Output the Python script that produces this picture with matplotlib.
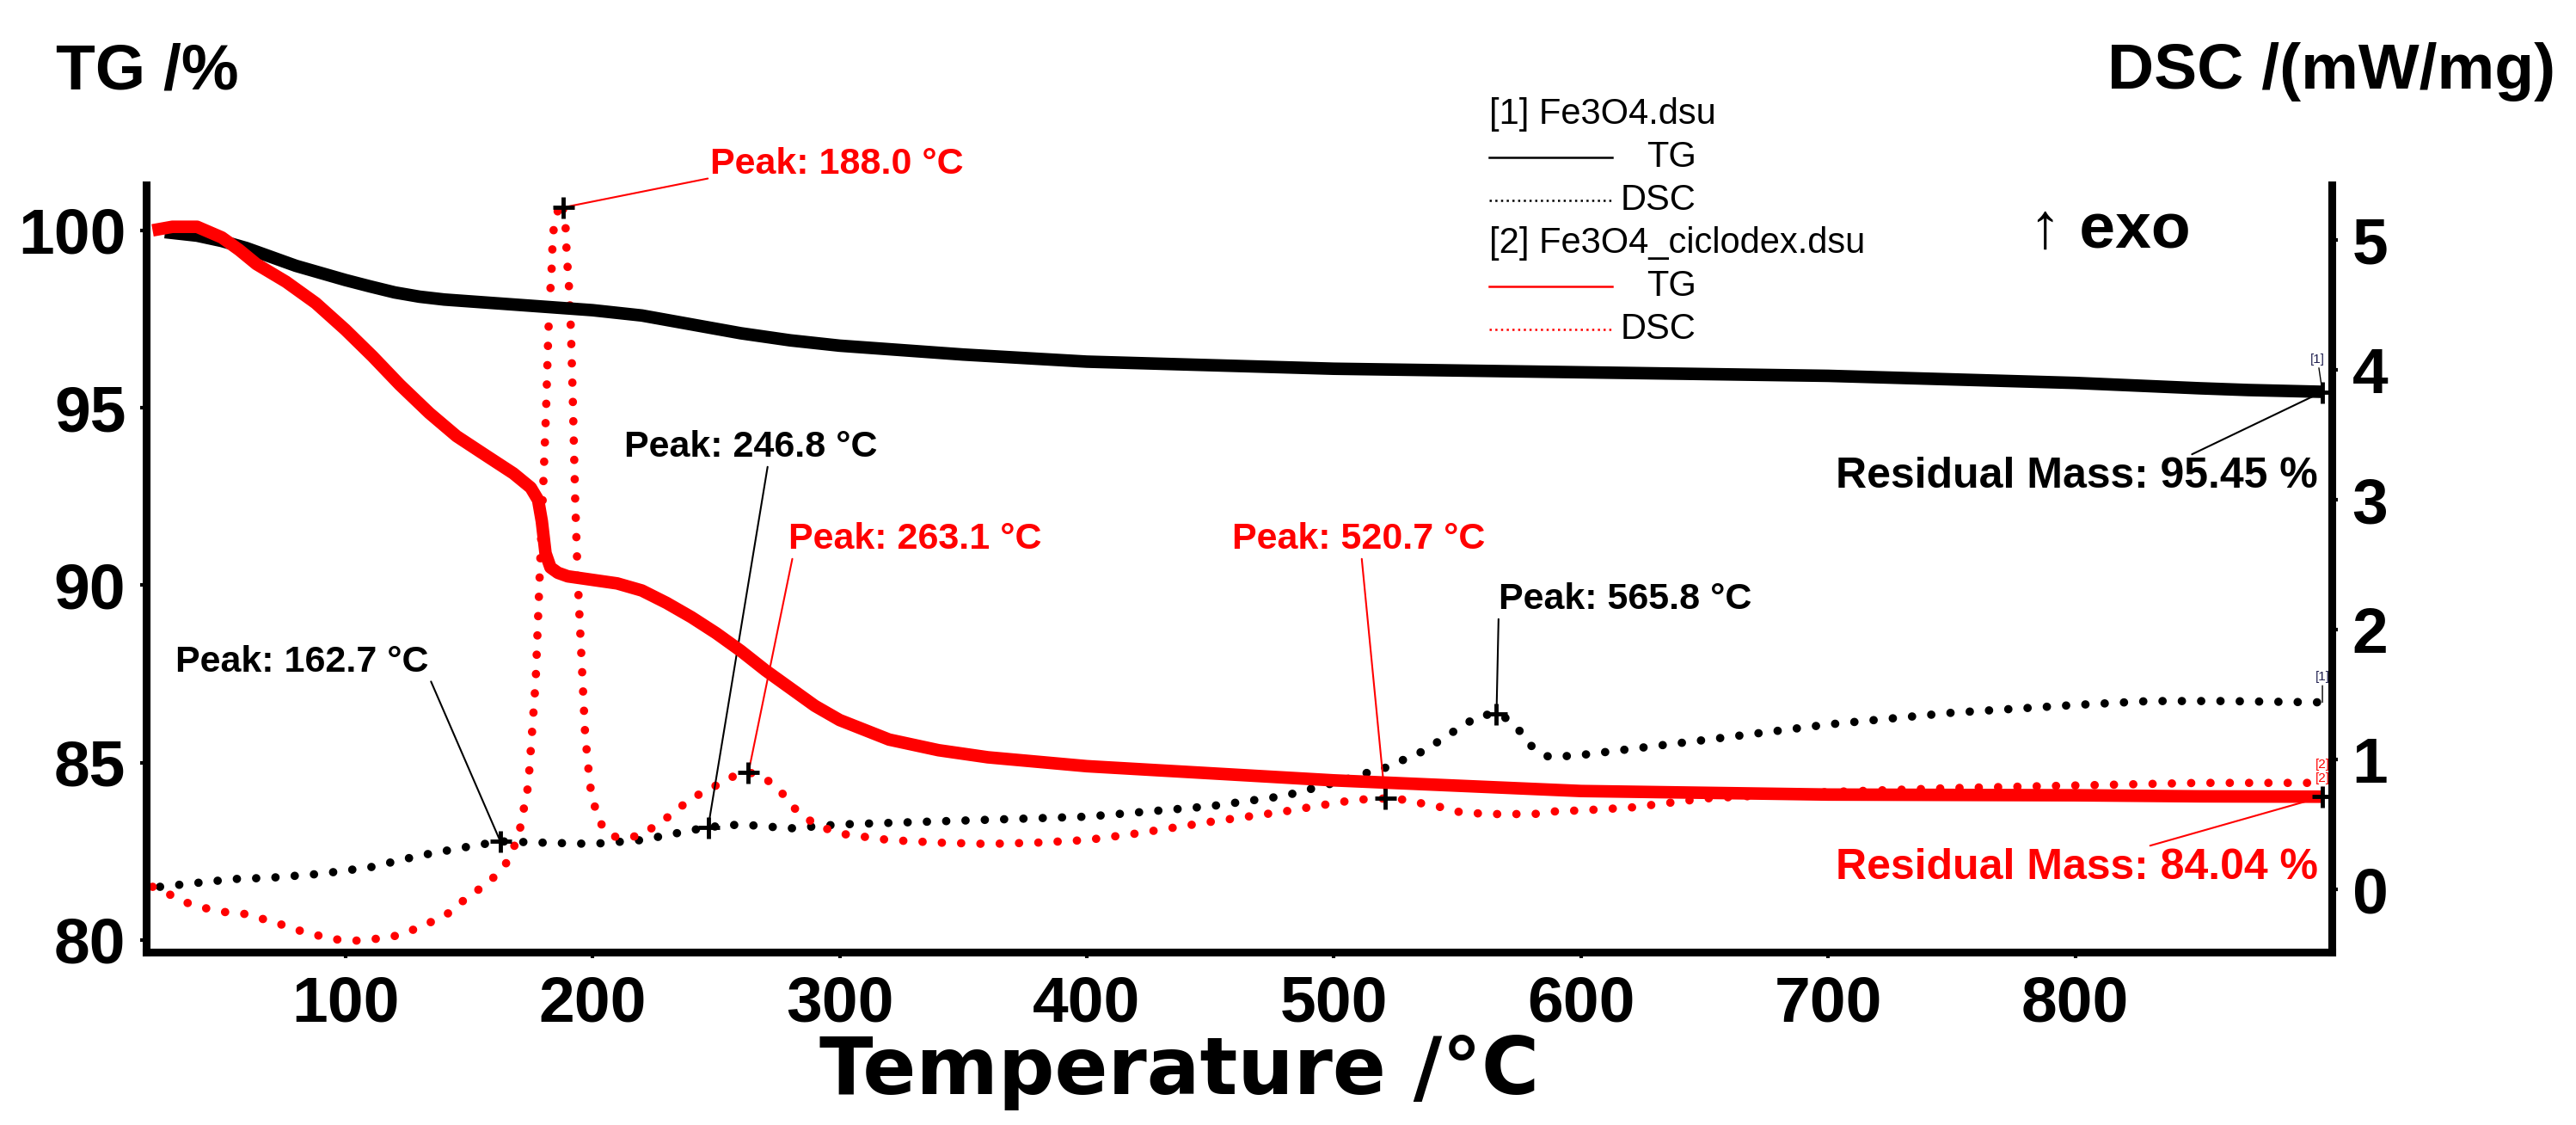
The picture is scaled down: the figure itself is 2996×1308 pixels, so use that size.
import matplotlib
matplotlib.use('Agg')
import matplotlib.pyplot as plt
from matplotlib.lines import Line2D
from matplotlib.ticker import MultipleLocator
import numpy as np

plt.rcParams['font.family'] = ['Liberation Sans', 'DejaVu Sans']

# TG curves (%)
tg1_t = [27, 40, 50, 60, 70, 80, 90, 100, 110, 120, 130, 140, 160, 180, 200, 220, 240, 260, 280,
         300, 350, 400, 450, 500, 550, 600, 650, 700, 750, 800, 850, 870, 900]
tg1 = [99.95, 99.85, 99.7, 99.5, 99.25, 99.0, 98.8, 98.6, 98.42, 98.25, 98.13, 98.05, 97.95, 97.85,
       97.75, 97.6, 97.35, 97.1, 96.9, 96.75, 96.5, 96.3, 96.2, 96.1, 96.05, 96.0, 95.95, 95.9,
       95.8, 95.7, 95.55, 95.5, 95.45]

tg2_t = [22, 30, 40, 50, 57, 64, 76, 88, 100, 111, 122, 134, 145, 157, 168, 175, 178, 179.5, 181,
         183, 186, 190, 200, 210, 220, 230, 240, 250, 260, 270, 280, 290, 300, 320, 340, 360, 400,
         450, 500, 550, 600, 700, 800, 850, 900]
tg2 = [100.0, 100.1, 100.1, 99.8, 99.45, 99.05, 98.55, 97.95, 97.2, 96.45, 95.65, 94.85, 94.2,
       93.65, 93.15, 92.75, 92.4, 91.8, 90.9, 90.5, 90.35, 90.25, 90.15, 90.05, 89.85, 89.5, 89.1,
       88.65, 88.15, 87.6, 87.1, 86.6, 86.2, 85.65, 85.35, 85.15, 84.9, 84.7, 84.5, 84.35, 84.2,
       84.1, 84.08, 84.05, 84.04]

# DSC curves (mW/mg)
dsc1_t = [25, 40, 55, 70, 90, 110, 130, 150, 162.7, 180, 200, 220, 246.8, 260, 280, 300, 350, 400,
          450, 480, 504, 512, 520, 526, 532, 538, 543, 548, 553, 559, 565.8, 568, 573, 576, 579,
          582, 587, 598, 650, 700, 750, 800, 830, 860, 900]
dsc1 = [0.02, 0.05, 0.08, 0.09, 0.12, 0.17, 0.26, 0.33, 0.37, 0.36, 0.35, 0.38, 0.48, 0.5, 0.47,
        0.5, 0.53, 0.56, 0.64, 0.72, 0.84, 0.89, 0.93, 0.98, 1.03, 1.08, 1.15, 1.21, 1.27, 1.34,
        1.35, 1.34, 1.27, 1.2, 1.12, 1.07, 1.02, 1.03, 1.15, 1.27, 1.36, 1.42, 1.45, 1.45, 1.44]

dsc2_t = [22, 28, 34, 40, 47, 53, 60, 67, 74, 80, 86, 92, 98, 104, 110, 118, 125, 130, 136, 142,
          150, 158, 165, 170, 174, 177, 179, 180.3, 181.2, 182, 182.6, 183.3, 184, 185.5, 187.5,
          189, 189.6, 190.7, 191.3, 192, 193, 194, 195.5, 197, 199, 202, 206, 210, 215, 220, 230,
          240, 250, 258, 263.1, 268, 275, 282, 290, 300, 320, 340, 360, 380, 400, 420, 450, 480,
          502, 509, 520.7, 529, 536, 542, 549, 555, 562, 571, 581, 589, 602, 620, 650, 700, 750,
          800, 850, 900]
dsc2 = [0.02, -0.03, -0.09, -0.13, -0.16, -0.18, -0.19, -0.23, -0.27, -0.31, -0.34, -0.37, -0.39,
        -0.395, -0.385, -0.37, -0.33, -0.29, -0.24, -0.18, -0.05, 0.05, 0.2, 0.4, 0.8, 1.6, 2.6,
        3.22, 3.68, 4.2, 4.53, 4.7, 5.05, 5.2, 5.3, 5.15, 4.88, 4.58, 4.29, 3.8, 3.0, 2.4, 1.8, 1.2,
        0.8, 0.55, 0.43, 0.4, 0.4, 0.42, 0.55, 0.7, 0.8, 0.88, 0.9, 0.88, 0.78, 0.62, 0.5, 0.43,
        0.38, 0.36, 0.35, 0.36, 0.38, 0.43, 0.52, 0.6, 0.67, 0.69, 0.7, 0.69, 0.66, 0.64, 0.6, 0.59,
        0.58, 0.58, 0.58, 0.6, 0.61, 0.63, 0.7, 0.75, 0.78, 0.8, 0.82, 0.82]

W, H = 2996, 1308


def fpos(x, y):
    # pixel position in the picture -> figure fraction
    return (x / W, 1 - y / H)


fig = plt.figure(figsize=(W / 100, H / 100), dpi=100)
ax = fig.add_axes([170 / W, 1 - 1107 / H, (2712 - 170) / W, (1107 - 215) / H])
ax2 = ax.twinx()
ax.set_zorder(ax2.get_zorder() + 1)
ax.patch.set_visible(False)

red = '#ff0000'
dot = (0, (0.01, 2.3))

ax2.plot(dsc1_t, dsc1, color='black', lw=7, linestyle=dot, dash_capstyle='round')
ax2.plot(dsc2_t, dsc2, color=red, lw=7, linestyle=dot, dash_capstyle='round')
ax.plot(tg1_t, tg1, color='black', lw=10.5, solid_capstyle='butt', solid_joinstyle='round')
ax.plot(tg2_t, tg2, color=red, lw=10.5, solid_capstyle='butt', solid_joinstyle='round')

ax.set_xlim(19.4, 903.8)
ax.set_ylim(79.66, 101.28)
ax2.set_ylim(-0.483, 5.424)

for a in (ax, ax2):
    a.spines['top'].set_visible(False)
    for s in ('left', 'right', 'bottom'):
        a.spines[s].set_linewidth(6.5)
    a.tick_params(which='major', direction='out', length=5, width=3, labelsize=54)
    a.tick_params(which='minor', direction='out', length=3, width=3)

ax.xaxis.set_minor_locator(MultipleLocator(20))
ax.yaxis.set_minor_locator(MultipleLocator(1))
ax2.yaxis.set_minor_locator(MultipleLocator(0.2))
ax.set_xticks([100, 200, 300, 400, 500, 600, 700, 800])
ax.set_xticklabels(['100', '200', '300', '400', '500', '600', '700', '800'], fontweight='bold')
ax.set_yticks([80, 85, 90, 95, 100])
ax.set_yticklabels(['80', '85', '90', '95', '100'], fontweight='bold')
ax2.set_yticks([0, 1, 2, 3, 4, 5])
ax2.set_yticklabels(['0', '1', '2', '3', '4', '5'], fontweight='bold')
ax.tick_params(axis='x', pad=14)
ax.tick_params(axis='y', pad=12)
ax2.tick_params(axis='y', pad=12)

# axis titles (the x title is drawn wide in the original)
fig.text(*fpos(1372, 1246), 'Temperature /°C', ha='center', va='center', fontsize=66,
         fontweight='bold', family=['DejaVu Sans'])
fig.text(*fpos(65, 84), 'TG /%', ha='left', va='center', fontsize=54, fontweight='bold')
fig.text(*fpos(2972, 84), 'DSC /(mW/mg)', ha='right', va='center', fontsize=54, fontweight='bold')
fig.text(*fpos(2360, 268), '↑ exo', ha='left', va='center', fontsize=54, fontweight='bold')

# legend
leg_rows = [
    ('[1] Fe3O4.dsu', None, None),
    ('TG', 'black', '-'),
    ('DSC', 'black', ':'),
    ('[2] Fe3O4_ciclodex.dsu', None, None),
    ('TG', red, '-'),
    ('DSC', red, ':'),
]
for i, (txt, col, ls) in enumerate(leg_rows):
    y = 133 + 50 * i
    if col is None:
        fig.text(*fpos(1732, y), txt, ha='left', va='center', fontsize=30)
    else:
        x0, y0 = fpos(1732, y)
        x1, _ = fpos(1875, y)
        fig.add_artist(Line2D([x0, x1], [y0, y0], color=col, lw=1.8,
                              linestyle=ls, transform=fig.transFigure))
        fig.text(*fpos(1973, y), txt, ha='right', va='center', fontsize=30)

# peak annotations: (temperature, series, colour, label position in px, relpos)
peaks = [
    (188.0, 'dsc2', red, (826, 191), (0.0, 0.1)),
    (246.8, 'dsc1', 'black', (726, 520), (0.57, 0.1)),
    (263.1, 'dsc2', red, (917, 627), (0.02, 0.1)),
    (162.7, 'dsc1', 'black', (204, 770), (1.0, 0.1)),
    (520.7, 'dsc2', red, (1433, 627), (0.51, 0.1)),
    (565.8, 'dsc1', 'black', (1743, 697), (0.0, 0.1)),
]
series = {'dsc1': (dsc1_t, dsc1), 'dsc2': (dsc2_t, dsc2)}
for T, key, col, (px, py), rp in peaks:
    st, sv = series[key]
    v = np.interp(T, st, sv)
    ax2.annotate(f'Peak: {T:.1f} °C', xy=(T, v), xycoords='data',
                 xytext=fpos(px, py), textcoords='figure fraction',
                 ha='left', va='center', fontsize=31, fontweight='bold', color=col,
                 arrowprops=dict(arrowstyle='-', color=col, lw=1.5, shrinkA=0, shrinkB=0,
                                 relpos=rp))
    ax2.plot([T], [v], marker='+', color='black', ms=18, mew=3.5, zorder=5)

# residual mass
for tt, tv, col, (px, py), rp in [(tg1_t, tg1, 'black', (2135, 554), (0.72, 0.95)),
                                  (tg2_t, tg2, red, (2135, 1009), (0.62, 0.95))]:
    ax.annotate(f'Residual Mass: {tv[-1]:.2f} %', xy=(tt[-1], tv[-1]), xycoords='data',
                xytext=fpos(px, py), textcoords='figure fraction',
                ha='left', va='center', fontsize=36, fontweight='bold', color=col,
                arrowprops=dict(arrowstyle='-', color=col, lw=1.5, shrinkA=0, shrinkB=0,
                                relpos=rp))
    ax.plot([tt[-1]], [tv[-1]], marker='+', color='black', ms=18, mew=3.5, zorder=5)

# small curve tags at the right end
ax.annotate('[1]', xy=(tg1_t[-1], tg1[-1]), xytext=(-4, 22), textcoords='offset points',
            ha='center', va='bottom', fontsize=11, color='#202050',
            arrowprops=dict(arrowstyle='-', color='black', lw=1, shrinkA=0, shrinkB=0))
ax2.annotate('[1]', xy=(dsc1_t[-1], dsc1[-1]), xytext=(0, 16), textcoords='offset points',
             ha='center', va='bottom', fontsize=11, color='#202050',
             arrowprops=dict(arrowstyle='-', color='black', lw=1, shrinkA=0, shrinkB=0))
ax2.annotate('[2]', xy=(dsc2_t[-1], dsc2[-1]), xytext=(0, 10), textcoords='offset points',
             ha='center', va='bottom', fontsize=11, color=red)
ax.annotate('[2]', xy=(tg2_t[-1], tg2[-1]), xytext=(0, 10), textcoords='offset points',
            ha='center', va='bottom', fontsize=11, color=red,
            arrowprops=dict(arrowstyle='-', color=red, lw=1, shrinkA=0, shrinkB=0))

fig.savefig('out.png', dpi=100)
